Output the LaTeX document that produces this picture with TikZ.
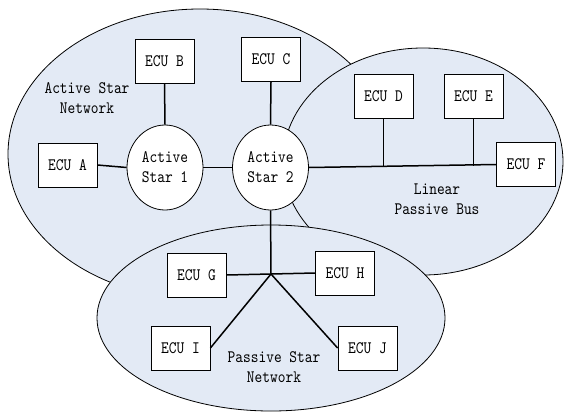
\documentclass[tikz,border=0pt]{standalone}
\usepackage{fontspec}
\newfontfamily\ecufont{lmmono10-regular.otf}[FakeStretch=0.84]
\usetikzlibrary{shapes.geometric}
\definecolor{areafill}{RGB}{227,234,245}
\begin{document}
\begin{tikzpicture}[x=1pt,y=-1pt,
  txt/.style={font=\fontsize{17.5}{20}\selectfont\ecufont},
  netarea/.style={ellipse,draw=black,line width=0.8pt,fill=areafill,inner sep=0pt},
  ecu/.style={txt,rectangle,draw=black,line width=0.8pt,fill=white,minimum width=59pt,minimum height=44pt,inner sep=0pt},
  star/.style={txt,ellipse,draw=black,line width=0.8pt,fill=white,minimum width=76pt,minimum height=85pt,inner sep=0pt,align=center},
  lbl/.style={txt,align=center,inner sep=0pt},
  link/.style={line width=1.5pt,black}]
\useasboundingbox (0,0) rectangle (564,415);
% network areas
\node[netarea,minimum width=384pt,minimum height=290pt] (asn) at (200,154) {};
\node[netarea,minimum width=280pt,minimum height=227pt] (lpb) at (423,161.5) {};
\node[netarea,minimum width=348pt,minimum height=186pt] (psn) at (271,318) {};
% labels
\node[lbl] (lasn) at (87,98) {Active Star\\Network};
\node[lbl] (llpb) at (437,199) {Linear\\Passive Bus};
\node[lbl] (lpsn) at (274,367) {Passive Star\\Network};
% stars
\node[star] (s1) at (165,167.5) {Active\\Star 1};
\node[star] (s2) at (270.5,167.5) {Active\\Star 2};
% ECUs
\node[ecu] (A) at (67.5,165) {ECU A};
\node[ecu] (B) at (164.5,61) {ECU B};
\node[ecu] (C) at (271,59.5) {ECU C};
\node[ecu] (D) at (383.5,96.5) {ECU D};
\node[ecu] (E) at (473.5,96.5) {ECU E};
\node[ecu] (F) at (526,164.5) {ECU F};
\node[ecu] (G) at (196.5,275) {ECU G};
\node[ecu] (H) at (345,273) {ECU H};
\node[ecu] (I) at (180.5,348) {ECU I};
\node[ecu] (J) at (367.5,348) {ECU J};
\coordinate (hub) at (271,274);
\coordinate (bd) at (383.5,166);
\coordinate (be) at (473.5,165.5);
% connectors
\draw[link] (A.east) -- (s1.west);
\draw[link] (B.south) -- (s1.north);
\draw[link] (s1.east) -- (s2.west);
\draw[link] (C.south) -- (s2.north);
\draw[link] (s2.east) -- (F.west);
\draw[link] (D.south) -- (bd);
\draw[link] (E.south) -- (be);
\draw[link] (s2.south) -- (hub);
\draw[link] (G.east) -- (hub);
\draw[link] (hub) -- (H.west);
\draw[link] (hub) -- (I.east);
\draw[link] (hub) -- (J.west);
\end{tikzpicture}
\end{document}
